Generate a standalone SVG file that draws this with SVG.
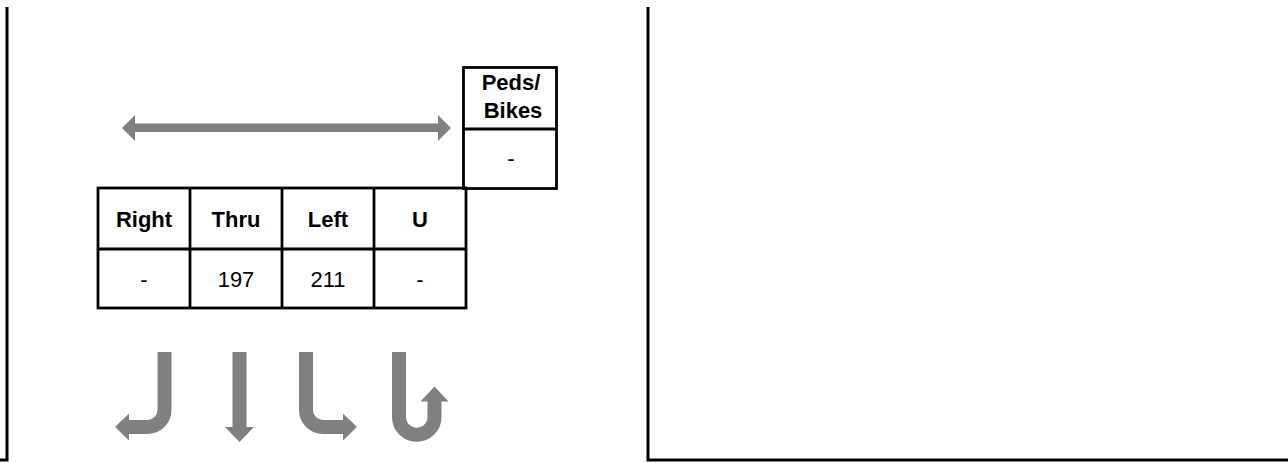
<svg xmlns="http://www.w3.org/2000/svg" width="1288" height="463" viewBox="0 0 1288 463">
<style>
.frame{fill:none;stroke:#000;stroke-width:3}
.grid{fill:none;stroke:#000;stroke-width:2.8}
.hd{font-family:"Liberation Sans",Arial,sans-serif;font-weight:bold;font-size:22px;fill:#000;text-anchor:middle}
.val{font-family:"Liberation Sans",Arial,sans-serif;font-size:22px;fill:#000;text-anchor:middle}
.shaft{fill:none;stroke:#808080;stroke-width:14}
.head{fill:#808080}
</style>
<rect width="1288" height="463" fill="#fff"/>
<g id="panel-left">
<polyline class="frame" points="7,7 7,460 0,460"/>
</g>
<g id="panel-right">
<polyline class="frame" points="648,7 648,460 1288,460"/>
</g>
<g id="peds-bikes">
<rect class="grid" x="463.5" y="67.5" width="93" height="121"/>
<line class="grid" x1="463.5" y1="129" x2="556.5" y2="129"/>
<text class="hd" x="511" y="89.5">Peds/</text>
<text class="hd" x="513" y="117.5">Bikes</text>
<text class="val" x="511" y="166">-</text>
</g>
<g id="movement-table">
<rect class="grid" x="98" y="188" width="368" height="120"/>
<line class="grid" x1="98" y1="249" x2="466" y2="249"/>
<line class="grid" x1="190" y1="188" x2="190" y2="308"/>
<line class="grid" x1="282" y1="188" x2="282" y2="308"/>
<line class="grid" x1="374" y1="188" x2="374" y2="308"/>
<text class="hd" x="144" y="227">Right</text>
<text class="hd" x="236" y="227">Thru</text>
<text class="hd" x="328" y="227">Left</text>
<text class="hd" x="420" y="227">U</text>
<text class="val" x="144" y="287">-</text>
<text class="val" x="236" y="287">197</text>
<text class="val" x="328" y="287">211</text>
<text class="val" x="420" y="287">-</text>
</g>
<g id="connectors">
<g id="ped-crossing-arrow">
<rect class="head" x="134" y="123.5" width="305" height="8.5"/>
<polygon class="head" points="122,128 135,115 135,141"/>
<polygon class="head" points="451,128 438,115 438,141"/>
</g>
<g id="arrow-right">
<path class="shaft" d="M164.5,352 V410 A17,17 0 0 1 147.5,427 H128"/>
<polygon class="head" points="115,427 129,413.5 129,440.5"/>
</g>
<g id="arrow-thru">
<path class="shaft" d="M239.5,352 V428"/>
<polygon class="head" points="225,427 254,427 239.5,442"/>
</g>
<g id="arrow-left">
<path class="shaft" d="M306,352 V410 A17,17 0 0 0 323,427 H344"/>
<polygon class="head" points="357,427 343,413.5 343,440.5"/>
</g>
<g id="arrow-u">
<path class="shaft" d="M399,352 V417 A17.75,17.75 0 0 0 434.5,417 V400"/>
<polygon class="head" points="434.5,386.5 420.5,401.5 448.5,401.5"/>
</g>
</g>
</svg>
